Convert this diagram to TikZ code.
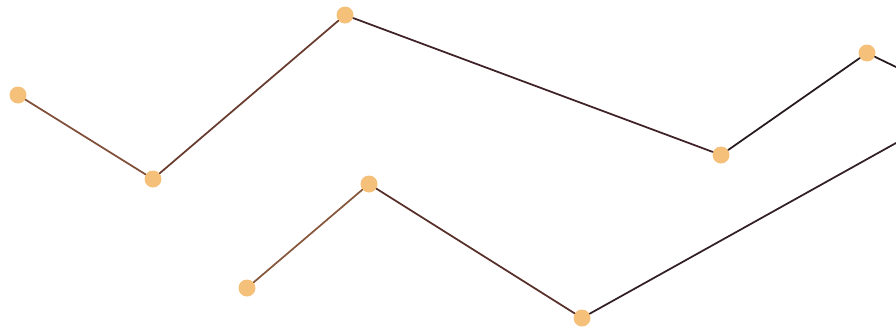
\documentclass[tikz,border=0pt]{standalone}
\usepackage{xcolor}
\usepackage{tikz}
\usetikzlibrary{positioning}
\definecolor{dotcol}{RGB}{245,193,122}
\definecolor{segA}{RGB}{128,80,58}
\definecolor{segB}{RGB}{105,60,48}
\definecolor{segC}{RGB}{62,34,40}
\definecolor{segD}{RGB}{38,26,30}
\definecolor{segE}{RGB}{135,88,62}
\definecolor{segF}{RGB}{88,48,42}
\definecolor{segG}{RGB}{50,32,36}

\begin{document}
\begin{tikzpicture}[
  x=0.02cm, y=-0.02cm,
  pt/.style={circle, fill=dotcol, inner sep=0pt, minimum size=0.34cm},
  seg/.style={line width=1pt, line cap=round},
]
  \useasboundingbox (0,0) rectangle (896,329);

  % upper run
  \node[pt] (a1) at (18,95) {};
  \node[pt] (a2) at (153,179) {};
  \node[pt] (a3) at (345,15) {};
  \node[pt] (a4) at (721,155) {};
  \node[pt] (a5) at (867,53) {};
  \coordinate (aend) at (896,67);

  % lower run
  \node[pt] (b1) at (247,288) {};
  \node[pt] (b2) at (369,184) {};
  \node[pt] (b3) at (582,318) {};
  \coordinate (bend) at (896,143);

  \draw[seg, segA] (a1) -- (a2);
  \draw[seg, segB] (a2) -- (a3);
  \draw[seg, segC] (a3) -- (a4);
  \draw[seg, segD] (a4) -- (a5);
  \draw[seg, segD] (a5) -- (aend);

  \draw[seg, segE] (b1) -- (b2);
  \draw[seg, segF] (b2) -- (b3);
  \draw[seg, segG] (b3) -- (bend);
\end{tikzpicture}
\end{document}
